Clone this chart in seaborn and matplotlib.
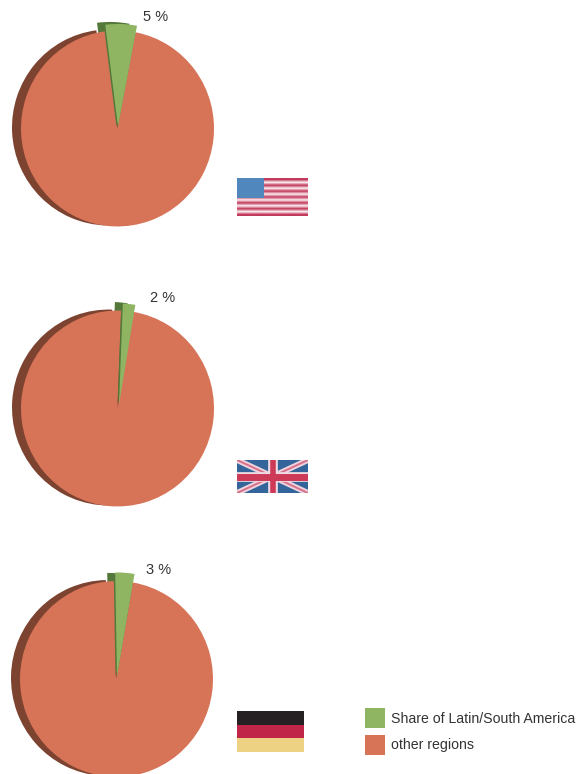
import numpy as np
import seaborn as sns
import matplotlib.pyplot as plt
from matplotlib.colors import ListedColormap
from matplotlib.patches import Patch
from matplotlib.transforms import Affine2D

countries = ["USA", "UK", "Germany"]
latin_share = [5, 2, 3]
other_share = [95, 98, 97]
share_labels = ["5 %", "2 %", "3 %"]
legend_labels = ["Share of Latin/South America", "other regions"]

GREEN = "#8fb563"
DARK_GREEN = "#54783a"
ORANGE = "#d77357"
BROWN = "#7c4330"

sns.set_theme(style="white")
plt.rcParams["font.family"] = ["Liberation Sans", "DejaVu Sans"]

fig = plt.figure(figsize=(5.8, 7.74), dpi=100)
ax = fig.add_axes([0, 0, 1, 1])

# pixel layout of the picture, y measured from the top
centers = [(118, 127), (119, 405), (117, 677)]
circle_centers = [(117.5, 128.5), (117.5, 408.5), (116.5, 679)]
start_angles = [97.2, 87.8, 91]
green_radius = [101.5, 100, 103]
dark_radius = [103.5, 101.5, 102.5]
label_pos = [(143, 17), (150, 298), (146, 570)]
RADIUS = 96.5
H = 774


def layer(values, show, center, radius, color, start, z):
    wedges, _ = ax.pie(values, center=(center[0], H - center[1]), radius=radius,
                       startangle=start, counterclock=False, frame=True,
                       colors=[color, color], wedgeprops={"linewidth": 0, "zorder": z})
    wedges[1 - show].set_visible(False)
    # the pies in the picture are slightly taller than wide
    y0 = H - center[1]
    wedges[show].set_transform(Affine2D().translate(0, -y0).scale(1, 1.015).translate(0, y0) + ax.transData)


for i, name in enumerate(countries):
    vals = [latin_share[i], other_share[i]]
    cx, cy = centers[i]
    ox, oy = circle_centers[i]
    st = start_angles[i]
    layer(vals, 1, (ox - 9, oy - 1), RADIUS, BROWN, st, 1)
    layer(vals, 0, (cx - 8, cy), dark_radius[i], DARK_GREEN, st, 2)
    layer(vals, 1, (ox, oy), RADIUS, ORANGE, st, 3)
    layer(vals, 0, (cx - 1.5, cy), 95, DARK_GREEN, st, 4)
    layer(vals, 0, (cx, cy), green_radius[i], GREEN, st, 5)
    ax.text(label_pos[i][0], H - label_pos[i][1], share_labels[i], fontsize=10.5,
            color="#333333", va="center", ha="left", zorder=6)

ax.set_xlim(0, 580)
ax.set_ylim(0, H)
ax.axis("off")

handles = [Patch(color=GREEN, linewidth=0), Patch(color=ORANGE, linewidth=0)]
ax.legend(handles, legend_labels, loc="lower left", bbox_to_anchor=(365 / 580, (H - 755) / H),
          frameon=False, fontsize=10.2, labelcolor="#333333", borderpad=0, borderaxespad=0,
          handlelength=1.41, handleheight=1.84, handletextpad=0.42, labelspacing=0.44)


def flag_axes(left, top, right, bottom):
    a = fig.add_axes([left / 580, (H - bottom) / H, (right - left) / 580, (bottom - top) / H])
    a.axis("off")
    return a


# USA flag, 0 red stripe, 1 white stripe
us = np.array([[i % 2] for i in range(13)])
a = flag_axes(237, 178, 308, 216)
a.imshow(us, aspect="auto", interpolation="bilinear",
         cmap=ListedColormap(["#c23a5c", "#fbf0f2"]), vmin=0, vmax=1)
a.axhspan(-0.5, 6.3, xmin=0, xmax=0.38, color="#5087bd", linewidth=0)

# UK flag
a = flag_axes(237, 460, 308, 493)
a.axis("on")
a.set_facecolor("#33659a")
a.set_xticks([])
a.set_yticks([])
for s in a.spines.values():
    s.set_visible(False)
for xs, ys in [([0, 1], [0, 1]), ([0, 1], [1, 0])]:
    a.plot(xs, ys, color="#eed3dd", lw=4.2, solid_capstyle="butt")
    a.plot(xs, ys, color="#d8708c", lw=1.4, solid_capstyle="butt")
a.axvline(0.5, color="#efdbe3", lw=7)
a.axhline(0.5, color="#efdbe3", lw=7)
a.axvline(0.5, color="#cc3a58", lw=4)
a.axhline(0.5, color="#cc3a58", lw=5)
a.set_xlim(0, 1)
a.set_ylim(0, 1)

# German flag
de = np.array([[0], [1], [2]])
a = flag_axes(237, 711, 304, 752)
sns.heatmap(de, ax=a, cbar=False, xticklabels=False, yticklabels=False,
            cmap=ListedColormap(["#252122", "#bf2647", "#eed283"]), vmin=0, vmax=2)

fig.savefig("out.png", dpi=100)
